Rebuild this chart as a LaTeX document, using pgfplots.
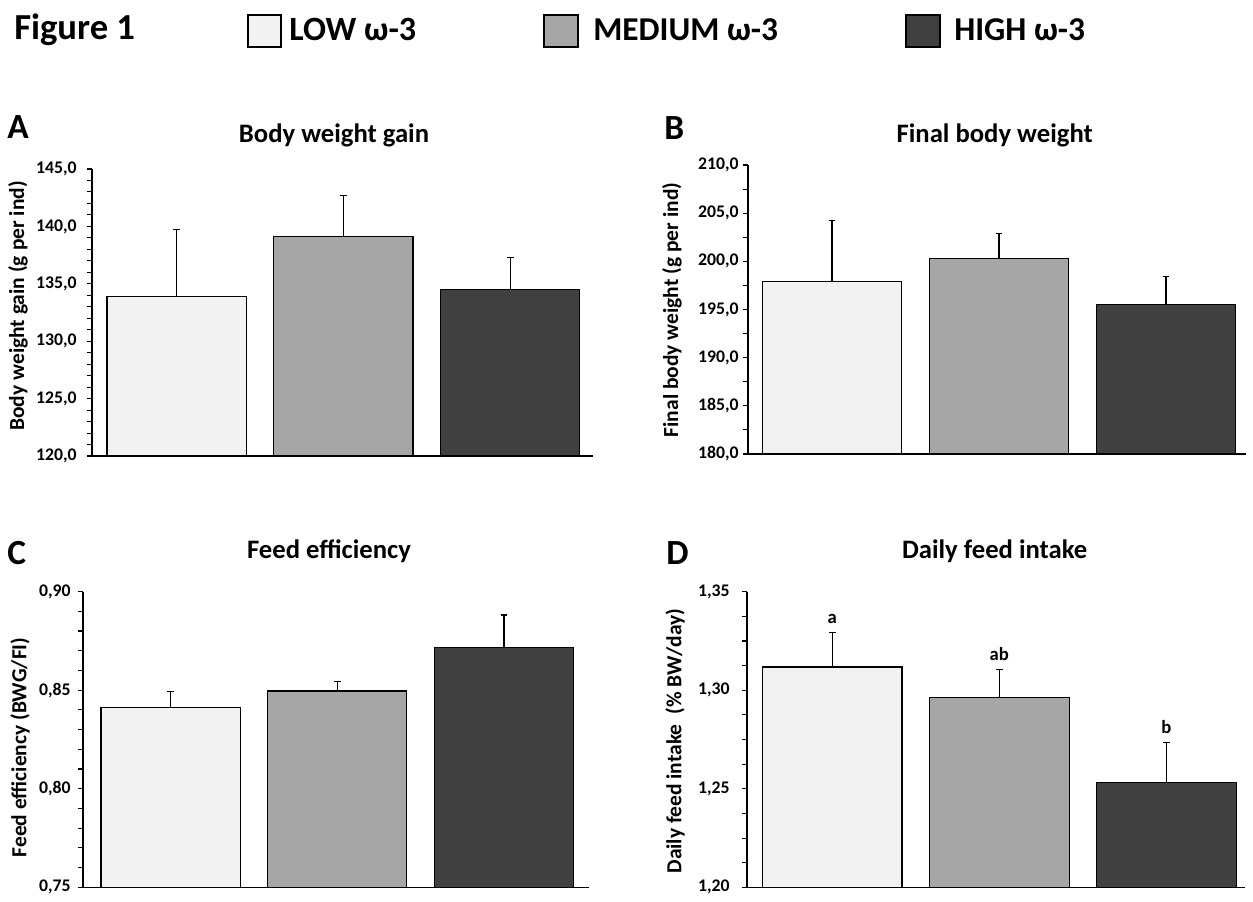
\documentclass[border=0pt]{standalone}
\usepackage{fontspec}
\setmainfont{Carlito}
\usepackage{pgfplots}
\pgfplotsset{compat=1.18}
\definecolor{lowc}{HTML}{F2F2F2}
\definecolor{medc}{HTML}{A6A6A6}
\definecolor{highc}{HTML}{404040}
\pgfplotsset{panel/.style={
  scale only axis,
  axis x line*=bottom, axis y line*=left,
  axis line style={-, line width=1.1pt, black},
  xtick=\empty, ytick pos=left, tick align=outside,
  major tick length=3.5pt, minor tick length=3.5pt,
  every tick/.style={black, line width=0.8pt},
  ybar, bar width=0.835,
  tick label style={font=\bfseries\fontsize{13.3}{13.3}\selectfont},
  /pgf/number format/assume math mode=true,
  clip=false,
  error bars/y dir=plus, error bars/y explicit,
  error bars/error bar style={line width=0.8pt, black},
  error bars/error mark=-,
  error bars/error mark options={line width=0.8pt, black, mark size=2.6pt, rotate=90},
  every axis plot/.append style={draw=black, line width=0.9pt, bar shift=0pt},
}}
\begin{document}
\begin{tikzpicture}[x=0.75pt,y=-0.75pt]
\useasboundingbox (0,0) rectangle (1253,902);
% header
\node[anchor=base west, inner sep=0, font=\bfseries\fontsize{27.5}{27.5}\selectfont] at (14,40) {Figure 1};
\draw[fill=lowc, line width=0.9pt] (248,15) rectangle (281,47);
\draw[fill=medc, line width=0.9pt] (544,15) rectangle (578,47);
\draw[fill=highc, line width=0.9pt] (906,15) rectangle (940,47);
\node[anchor=base west, inner sep=0, font=\bfseries\fontsize{25.5}{25.5}\selectfont] at (289,41) {LOW ω-3};
\node[anchor=base west, inner sep=0, font=\bfseries\fontsize{25}{25}\selectfont] at (593,41) {MEDIUM ω-3};
\node[anchor=base west, inner sep=0, font=\bfseries\fontsize{25}{25}\selectfont] at (954,41) {HIGH ω-3};
% panel letters
\node[anchor=base west, inner sep=0, font=\bfseries\fontsize{26.5}{26.5}\selectfont] at (7,139) {A};
\node[anchor=base west, inner sep=0, font=\bfseries\fontsize{26.5}{26.5}\selectfont] at (664,140) {B};
\node[anchor=base west, inner sep=0, font=\bfseries\fontsize{26.5}{26.5}\selectfont] at (7,564) {C};
\node[anchor=base west, inner sep=0, font=\bfseries\fontsize{26.5}{26.5}\selectfont] at (666,564) {D};
% titles
\node[anchor=base, inner sep=0, font=\bfseries\fontsize{20}{20}\selectfont] at (334,143) {Body weight gain};
\node[anchor=base, inner sep=0, font=\bfseries\fontsize{20}{20}\selectfont] at (994.7,143) {Final body weight};
\node[anchor=base, inner sep=0, font=\bfseries\fontsize{20}{20}\selectfont] at (329,558) {Feed efficiency};
\node[anchor=base, inner sep=0, font=\bfseries\fontsize{20}{20}\selectfont] at (994.7,558) {Daily feed intake};
% y labels
\node[rotate=90, inner sep=0, font=\bfseries\fontsize{16.1}{16.1}\selectfont] at (18,306) {Body weight gain (g per ind)};
\node[rotate=90, inner sep=0, font=\bfseries\fontsize{16.1}{16.1}\selectfont] at (672,310) {Final body weight (g per ind)};
\node[rotate=90, inner sep=0, font=\bfseries\fontsize{16.1}{16.1}\selectfont] at (20,747.5) {Feed efficiency (BWG/FI)};
\node[rotate=90, inner sep=0, font=\bfseries\fontsize{16.1}{16.1}\selectfont] at (675,741) {Daily feed intake\ \ (\% BW/day)};

% Panel A
\begin{axis}[panel, at={(69pt,-342pt)}, anchor=south west, width=375.75pt, height=215.25pt,
  xmin=-0.507, xmax=2.497, ymin=120, ymax=145, ytick={120,125,...,145}, minor y tick num=4,
  yticklabel style={xshift=-4.5pt, /pgf/number format/.cd, fixed, fixed zerofill, precision=1, use comma}]
\addplot[fill=lowc] coordinates {(0,133.9) +- (0,5.8)};
\addplot[fill=medc] coordinates {(1,139.1) +- (0,3.6)};
\addplot[fill=highc] coordinates {(2,134.5) +- (0,2.8)};
\end{axis}
% Panel B
\begin{axis}[panel, at={(561pt,-340.5pt)}, anchor=south west, width=373.5pt, height=216.75pt,
  xmin=-0.503, xmax=2.479, ymin=180, ymax=210, ytick={180,185,...,210}, minor y tick num=1,
  yticklabel style={/pgf/number format/.cd, fixed, fixed zerofill, precision=1, use comma}]
\addplot[fill=lowc] coordinates {(0,197.9) +- (0,6.3)};
\addplot[fill=medc] coordinates {(1,200.3) +- (0,2.6)};
\addplot[fill=highc] coordinates {(2,195.5) +- (0,2.9)};
\end{axis}
% Panel C
\begin{axis}[panel, at={(62.25pt,-665.5pt)}, anchor=south west, width=379.5pt, height=221.85pt,
  xmin=-0.525, xmax=2.51, ymin=0.75, ymax=0.90, ytick={0.75,0.80,0.85,0.90}, minor y tick num=4,
  yticklabel style={xshift=-2.25pt, /pgf/number format/.cd, fixed, fixed zerofill, precision=2, use comma}]
\addplot[fill=lowc] coordinates {(0,0.8412) +- (0,0.0079)};
\addplot[fill=medc] coordinates {(1,0.8496) +- (0,0.0048)};
\addplot[fill=highc] coordinates {(2,0.8717) +- (0,0.0164)};
\end{axis}
% Panel D
\begin{axis}[panel, at={(560.25pt,-665.5pt)}, anchor=south west, width=373.5pt, height=221.7pt,
  xmin=-0.51, xmax=2.47, ymin=1.20, ymax=1.35, ytick={1.20,1.25,1.30,1.35}, minor y tick num=3,
  yticklabel style={xshift=-6pt, /pgf/number format/.cd, fixed, fixed zerofill, precision=2, use comma}]
\addplot[fill=lowc] coordinates {(0,1.3118) +- (0,0.0173)};
\addplot[fill=medc] coordinates {(1,1.2964) +- (0,0.0141)};
\addplot[fill=highc] coordinates {(2,1.2534) +- (0,0.0203)};
\node[anchor=base, yshift=6.75pt, font=\bfseries\fontsize{14}{14}\selectfont] at (axis cs:0,1.3291) {a};
\node[anchor=base, yshift=6.75pt, font=\bfseries\fontsize{14}{14}\selectfont] at (axis cs:1,1.3105) {ab};
\node[anchor=base, yshift=6.75pt, font=\bfseries\fontsize{14}{14}\selectfont] at (axis cs:2,1.2737) {b};
\end{axis}
\end{tikzpicture}
\end{document}
